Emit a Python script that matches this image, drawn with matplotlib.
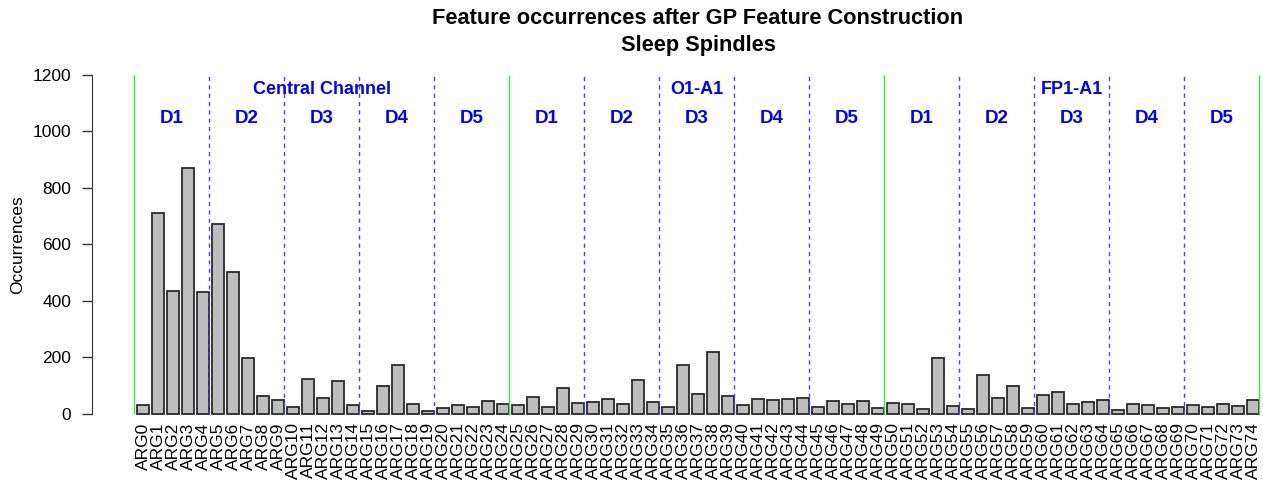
import matplotlib
matplotlib.use('Agg')
import matplotlib.pyplot as plt
import numpy as np

plt.rcParams['font.family'] = ['Liberation Sans', 'DejaVu Sans']

# occorrenze (ARG0..ARG74)
labels = ['ARG%d' % i for i in range(75)]
occurrences = [
    30, 710, 437, 870, 433, 671, 504, 199, 64, 51,
    26, 124, 58, 116, 32, 12, 98, 173, 35, 11,
    20, 30, 25, 45, 34, 30, 59, 25, 92, 38,
    41, 54, 35, 120, 41, 26, 172, 72, 219, 65,
    32, 53, 51, 53, 57, 24, 45, 37, 46, 21,
    40, 37, 17, 198, 27, 17, 137, 58, 100, 22,
    66, 79, 35, 41, 48, 13, 37, 31, 21, 25,
    32, 24, 37, 27, 51,
]
channels = ['Central Channel', 'O1-A1', 'FP1-A1']
levels = ['D1', 'D2', 'D3', 'D4', 'D5']

fig = plt.figure(figsize=(12.63, 4.97), dpi=100)
ax = fig.add_axes([91.9 / 1263, 1 - 418.2 / 497, 1212.25 / 1263, (418.2 - 61.4) / 497])

# posizioni come barplot di R (space=0.2)
x = 0.7 + 1.2 * np.arange(len(occurrences))
ax.bar(x, occurrences, width=1.0, color='#BEBEBE', edgecolor='#2a2a2a', linewidth=1.3, zorder=2)

# separatori: verde tra canali, blu tratteggiato tra livelli
for k in range(16):
    pos = 6 * k
    if k % 5 == 0:
        ax.vlines(pos, 0, 1200, color='#33EE33', linewidth=1, zorder=3)
    else:
        ax.vlines(pos, 0, 1200, color='#4444FF', linewidth=1, linestyles=(0, (3, 3)), zorder=3)

for c, name in enumerate(channels):
    ax.text(15 + 30 * c, 1150, name, color='blue', fontsize=13, fontweight='bold',
            ha='center', va='center')
    for d, lev in enumerate(levels):
        ax.text(3 + 30 * c + 6 * d, 1045, lev, color='blue', fontsize=13.5, fontweight='bold',
                ha='center', va='center')

ax.set_xlim(-3.392, 93.592)
ax.set_ylim(-15, 1248)

ax.set_xticks(x)
ax.set_xticklabels(labels, rotation=90, fontsize=12.5)
ax.tick_params(axis='x', length=0, pad=3)

ax.set_yticks(range(0, 1201, 200))
ax.tick_params(axis='y', labelsize=12.5, length=7, pad=8, width=1, color='#333333')

for s in ['top', 'right', 'bottom']:
    ax.spines[s].set_visible(False)
ax.spines['left'].set_bounds(0, 1200)
ax.spines['left'].set_color('#333333')

cx = (91.9 + 1212.25 / 2) / 1263
fig.text(cx, 1 - 18 / 497, 'Feature occurrences after GP Feature Construction',
         ha='center', va='center', fontsize=15.7, fontweight='bold')
fig.text(cx, 1 - 45 / 497, 'Sleep Spindles', ha='center', va='center',
         fontsize=15.7, fontweight='bold')
fig.text(18 / 1263, 1 - 245 / 497, 'Occurrences', rotation=90, ha='center', va='center',
         fontsize=12.5)

fig.savefig('out.png', dpi=100)
plt.close()
